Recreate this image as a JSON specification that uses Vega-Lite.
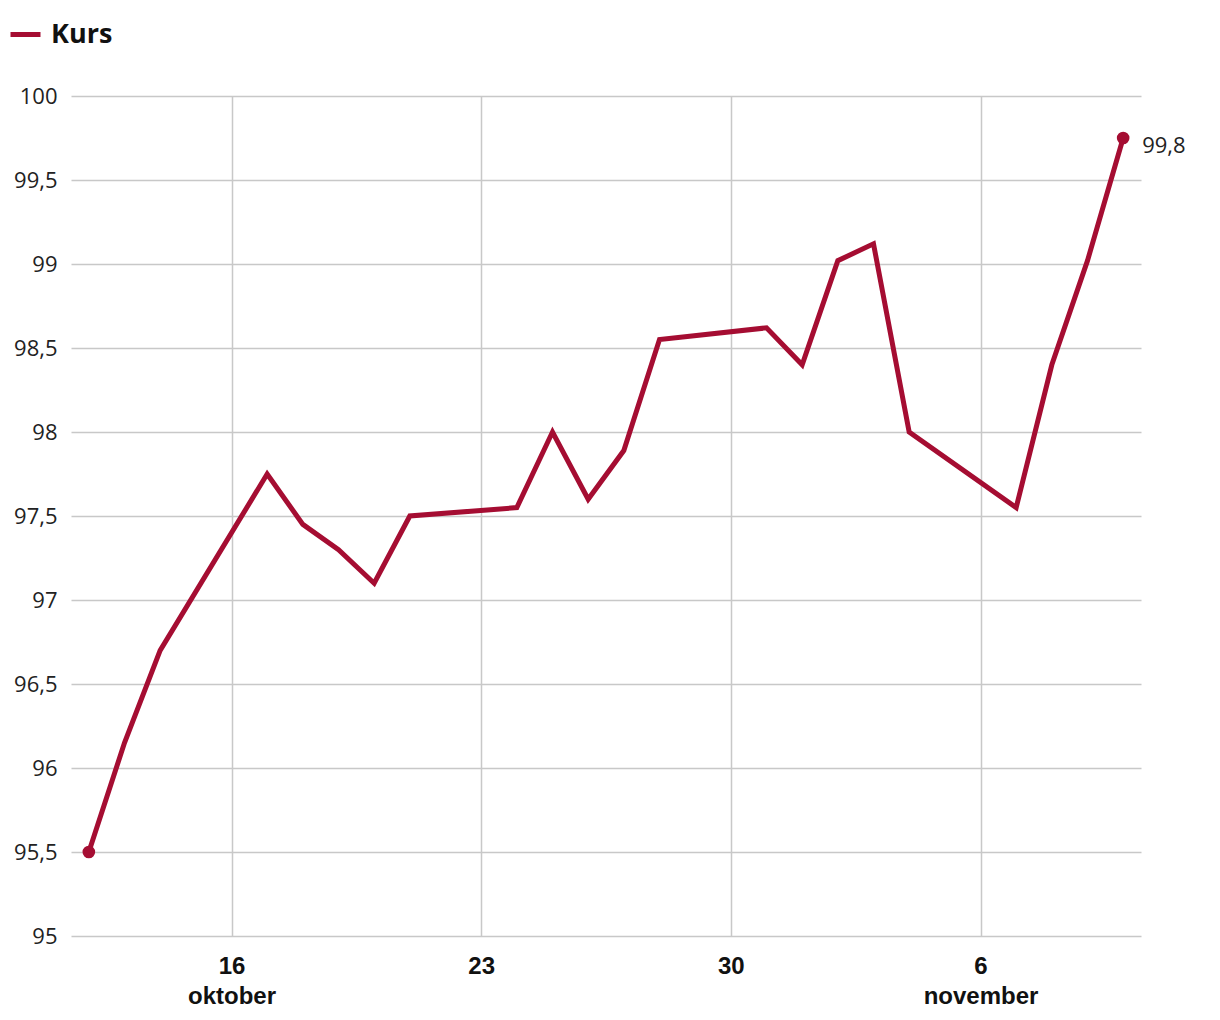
{
  "$schema": "https://vega.github.io/schema/vega-lite/v6.json",
  "width": 1070,
  "height": 840,
  "autosize": {"type": "none"},
  "padding": {"left": 71, "top": 96, "right": 79, "bottom": 84},
  "background": "white",
  "config": {
    "view": {"stroke": null},
    "font": "Open Sans",
    "locale": {"number": {"decimal": ",", "thousands": " ", "grouping": [3], "currency": ["", " kr"]}}
  },
  "data": {
    "values": [
      {"date": "2022-10-12", "kurs": 95.5},
      {"date": "2022-10-13", "kurs": 96.15},
      {"date": "2022-10-14", "kurs": 96.7},
      {"date": "2022-10-17", "kurs": 97.75},
      {"date": "2022-10-18", "kurs": 97.45},
      {"date": "2022-10-19", "kurs": 97.3},
      {"date": "2022-10-20", "kurs": 97.1},
      {"date": "2022-10-21", "kurs": 97.5},
      {"date": "2022-10-24", "kurs": 97.55},
      {"date": "2022-10-25", "kurs": 98.0},
      {"date": "2022-10-26", "kurs": 97.6},
      {"date": "2022-10-27", "kurs": 97.89},
      {"date": "2022-10-28", "kurs": 98.55},
      {"date": "2022-10-31", "kurs": 98.62},
      {"date": "2022-11-01", "kurs": 98.4},
      {"date": "2022-11-02", "kurs": 99.02},
      {"date": "2022-11-03", "kurs": 99.12},
      {"date": "2022-11-04", "kurs": 98.0},
      {"date": "2022-11-07", "kurs": 97.55},
      {"date": "2022-11-08", "kurs": 98.4},
      {"date": "2022-11-09", "kurs": 99.02},
      {"date": "2022-11-10", "kurs": 99.75}
    ]
  },
  "layer": [
    {
      "mark": {"type": "line", "strokeWidth": 5, "strokeJoin": "miter", "strokeCap": "butt"},
      "encoding": {
        "x": {
          "field": "date",
          "type": "temporal",
          "scale": {
            "type": "utc",
            "domain": [
              {"year": 2022, "month": 10, "date": 11, "hours": 12, "utc": true},
              {"year": 2022, "month": 11, "date": 10, "hours": 12, "utc": true}
            ]
          },
          "axis": {
            "title": null,
            "values": [
              {"year": 2022, "month": 10, "date": 16, "utc": true},
              {"year": 2022, "month": 10, "date": 23, "utc": true},
              {"year": 2022, "month": 10, "date": 30, "utc": true},
              {"year": 2022, "month": 11, "date": 6, "utc": true}
            ],
            "labelExpr": "utcdate(datum.value) == 16 ? ['16', 'oktober'] : utcdate(datum.value) == 6 ? ['6', 'november'] : ['' + utcdate(datum.value)]",
            "labelFont": "Liberation Sans",
            "labelFontWeight": "bold",
            "labelFontSize": 24,
            "labelColor": "#111111",
            "labelLineHeight": 30,
            "labelPadding": 18,
            "ticks": false,
            "domain": false,
            "grid": true,
            "gridColor": "#c8c8c8",
            "gridWidth": 1.5
          }
        },
        "y": {
          "field": "kurs",
          "type": "quantitative",
          "scale": {"domain": [95, 100], "zero": false, "nice": false},
          "axis": {
            "title": null,
            "values": [95, 95.5, 96, 96.5, 97, 97.5, 98, 98.5, 99, 99.5, 100],
            "format": "~g",
            "labelFont": "Open Sans",
            "labelFontSize": 22,
            "labelColor": "#222222",
            "labelPadding": 14,
            "ticks": false,
            "domain": false,
            "grid": true,
            "gridColor": "#c8c8c8",
            "gridWidth": 1.5
          }
        },
        "color": {
          "datum": "Kurs",
          "type": "nominal",
          "scale": {"range": ["#a50d32"]},
          "legend": {
            "title": null,
            "orient": "none",
            "legendX": -63,
            "legendY": -79,
            "symbolType": "stroke",
            "symbolStrokeWidth": 5,
            "symbolSize": 900,
            "labelFont": "Open Sans",
            "labelFontSize": 27,
            "labelFontWeight": "bold",
            "labelColor": "#111111",
            "labelOffset": 8
          }
        }
      }
    },
    {
      "transform": [{"filter": "utcdate(datum.date) == 12 && utcmonth(datum.date) == 9 || utcdate(datum.date) == 10 && utcmonth(datum.date) == 10"}],
      "mark": {"type": "point", "filled": true, "size": 160, "opacity": 1, "color": "#a50d32"},
      "encoding": {
        "x": {"field": "date", "type": "temporal"},
        "y": {"field": "kurs", "type": "quantitative"}
      }
    },
    {
      "transform": [{"filter": "utcdate(datum.date) == 10 && utcmonth(datum.date) == 10"}],
      "mark": {"type": "text", "align": "left", "baseline": "middle", "dx": 19, "dy": 8, "fontSize": 22, "font": "Open Sans", "color": "#222222"},
      "encoding": {
        "x": {"field": "date", "type": "temporal"},
        "y": {"field": "kurs", "type": "quantitative"},
        "text": {"field": "kurs", "type": "quantitative", "format": ".1f"}
      }
    }
  ]
}
